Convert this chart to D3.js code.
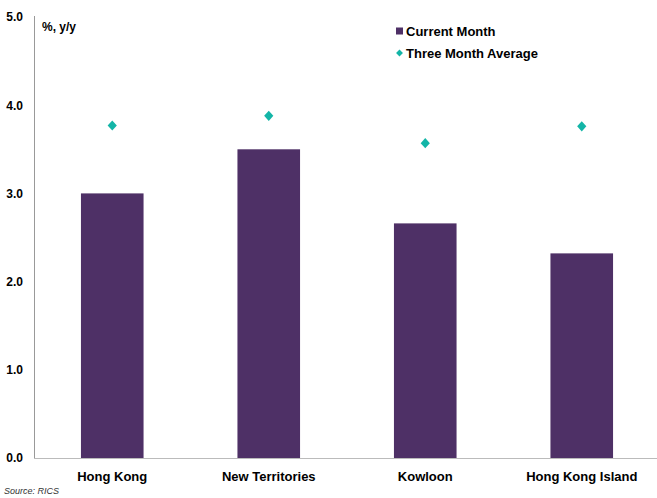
<!DOCTYPE html>
<html>
<head>
<meta charset="utf-8">
<script src="https://cdn.jsdelivr.net/npm/d3@7"></script>
<style>
  html, body { margin: 0; padding: 0; background: #fff; }
  svg { display: block; font-family: "Liberation Sans", Arial, sans-serif; }
</style>
</head>
<body>
<div id="chart"></div>
<script>
const categories = ["Hong Kong", "New Territories", "Kowloon", "Hong Kong Island"];
const currentMonth = [3.0, 3.5, 2.66, 2.32];
const threeMonthAvg = [3.77, 3.88, 3.57, 3.76];
const yTicks = [0, 1, 2, 3, 4, 5];
const seriesNames = ["Current Month", "Three Month Average"];

const W = 657, H = 498;
const svg = d3.select("#chart").append("svg").attr("width", W).attr("height", H);

const x = d3.scaleBand().domain(categories).range([34, 660]).padding(0);
const y = d3.scaleLinear().domain([0, 5]).range([458, 17]);
const barW = x.bandwidth() * 0.4;

const barColor = "#4E3066";
const diamondColor = "#13B5A7";

// bars
svg.selectAll("rect.bar").data(categories).enter().append("rect")
  .attr("class", "bar")
  .attr("x", (d) => x(d) + x.bandwidth() / 2 - barW / 2)
  .attr("y", (d, i) => y(currentMonth[i]))
  .attr("width", barW)
  .attr("height", (d, i) => y(0) - y(currentMonth[i]))
  .attr("fill", barColor);

// diamonds
const diamond = d3.symbol().type(d3.symbolDiamond2).size(60);
svg.selectAll("path.dia").data(categories).enter().append("path")
  .attr("class", "dia")
  .attr("d", diamond)
  .attr("transform", (d, i) => `translate(${x(d) + x.bandwidth() / 2},${y(threeMonthAvg[i])}) scale(0.95,1.05)`)
  .attr("fill", diamondColor);

// y axis line
svg.append("line").attr("x1", 34.5).attr("x2", 34.5).attr("y1", y(5) - 1).attr("y2", y(0))
  .attr("stroke", "#999").attr("stroke-width", 1);
// x baseline
svg.append("line").attr("x1", 34).attr("x2", 660).attr("y1", y(0) + 0.5).attr("y2", y(0) + 0.5)
  .attr("stroke", "#bbb").attr("stroke-width", 1.2);

// y tick labels
svg.selectAll("text.ytick").data(yTicks).enter().append("text")
  .attr("class", "ytick")
  .attr("x", 23).attr("y", (d) => y(d))
  .attr("dy", "0.36em")
  .attr("text-anchor", "end")
  .attr("font-size", 12).attr("font-weight", "bold").attr("fill", "#000")
  .text((d) => d3.format(".1f")(d));

// x labels
svg.selectAll("text.xlab").data(categories).enter().append("text")
  .attr("class", "xlab")
  .attr("x", (d) => x(d) + x.bandwidth() / 2)
  .attr("y", 481)
  .attr("text-anchor", "middle")
  .attr("font-size", 13).attr("font-weight", "bold").attr("fill", "#000")
  .text((d) => d);

// unit label
svg.append("text").attr("x", 42).attr("y", 31)
  .attr("font-size", 12).attr("font-weight", "bold").attr("fill", "#000")
  .text("%, y/y");

// legend
svg.append("rect").attr("x", 396).attr("y", 27.5).attr("width", 7).attr("height", 7).attr("fill", barColor);
svg.append("text").attr("x", 406).attr("y", 36)
  .attr("font-size", 13).attr("font-weight", "bold").attr("fill", "#000").text(seriesNames[0]);
svg.append("path").attr("d", d3.symbol().type(d3.symbolDiamond2).size(30))
  .attr("transform", "translate(399.5,53)").attr("fill", diamondColor);
svg.append("text").attr("x", 406).attr("y", 57.5)
  .attr("font-size", 13).attr("font-weight", "bold").attr("fill", "#000").text(seriesNames[1]);

// source
svg.append("text").attr("x", 4).attr("y", 494)
  .attr("font-size", 9).attr("font-style", "italic").attr("fill", "#333")
  .text("Source: RICS");
</script>
</body>
</html>
